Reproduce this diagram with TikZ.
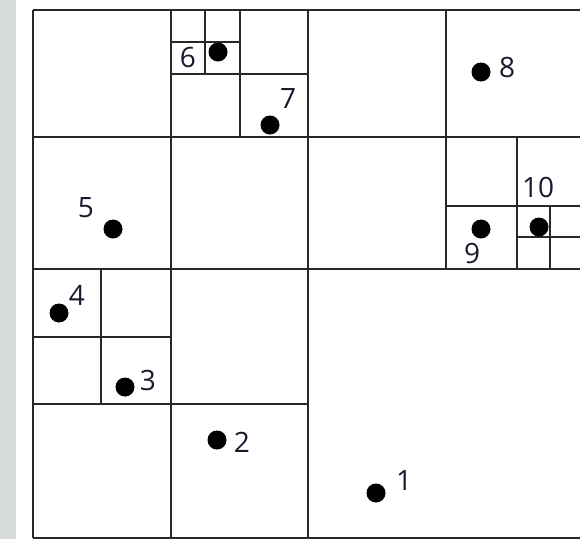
\documentclass[tikz,border=0pt]{standalone}
\usepackage{fontspec}
\setmainfont{Open Sans}
\usepackage{tikz}
\usetikzlibrary{calc, positioning}

\definecolor{gridline}{RGB}{40,40,40}
\definecolor{numtext}{RGB}{25,25,45}
\definecolor{stripgray}{RGB}{214,220,220}

\begin{document}
\begin{tikzpicture}[
        x=1pt, y=-1pt,
        cellline/.style={draw=gridline, line width=1.3pt},
        pt/.style={circle, fill=black, inner sep=0pt, minimum size=19pt},
        num/.style={text=numtext, inner sep=0pt, font=\fontsize{28}{30}\selectfont}
    ]
    \useasboundingbox (0,0) rectangle (580,539);
    \clip (0,0) rectangle (580,539);

    % background strip on the left
    \fill[stripgray] (0,0) rectangle (16,539);

    % ================= Level 1 + 2 =================
    \draw[cellline] (33,10) -- (584,10);
    \draw[cellline] (33,538) -- (584,538);
    \draw[cellline] (33,10) -- (33,538);
    \draw[cellline] (33,269) -- (584,269);
    \draw[cellline] (308,10) -- (308,538);
    \draw[cellline] (171,10) -- (171,538);
    \draw[cellline] (33,137) -- (584,137);
    \draw[cellline] (446,10) -- (446,269);
    \draw[cellline] (33,404) -- (308,404);

    % ================= Deeper cells =================
    % top middle
    \draw[cellline] (240,10) -- (240,137);
    \draw[cellline] (171,74) -- (308,74);
    \draw[cellline] (205,10) -- (205,74);
    \draw[cellline] (171,42) -- (240,42);
    % right middle
    \draw[cellline] (517,137) -- (517,269);
    \draw[cellline] (446,206) -- (584,206);
    \draw[cellline] (550,206) -- (550,269);
    \draw[cellline] (517,237) -- (584,237);
    % lower left
    \draw[cellline] (101,269) -- (101,404);
    \draw[cellline] (33,337) -- (171,337);

    % ================= Points =================
    \node[pt] (p1) at (376,493) {};
    \node[pt] (p2) at (217,440) {};
    \node[pt] (p3) at (125,387) {};
    \node[pt] (p4) at (59,313) {};
    \node[pt] (p5) at (113,229) {};
    \node[pt] (p6) at (218,52) {};
    \node[pt] (p7) at (270,125) {};
    \node[pt] (p8) at (481,72) {};
    \node[pt] (p9) at (481,229) {};
    \node[pt] (p10) at (539,227) {};

    % Labels
    \node[num] (l1) at (404,480) {1};
    \node[num] (l2) at (242,442) {2};
    \node[num] (l3) at (148,380) {3};
    \node[num] (l4) at (77,295) {4};
    \node[num] (l5) at (86,208) {5};
    \node[num] (l6) at (188,57) {6};
    \node[num] (l7) at (288,98) {7};
    \node[num] (l8) at (507,67) {8};
    \node[num] (l9) at (472,253) {9};
    \node[num] (l10) at (538,187) {10};

\end{tikzpicture}
\end{document}
